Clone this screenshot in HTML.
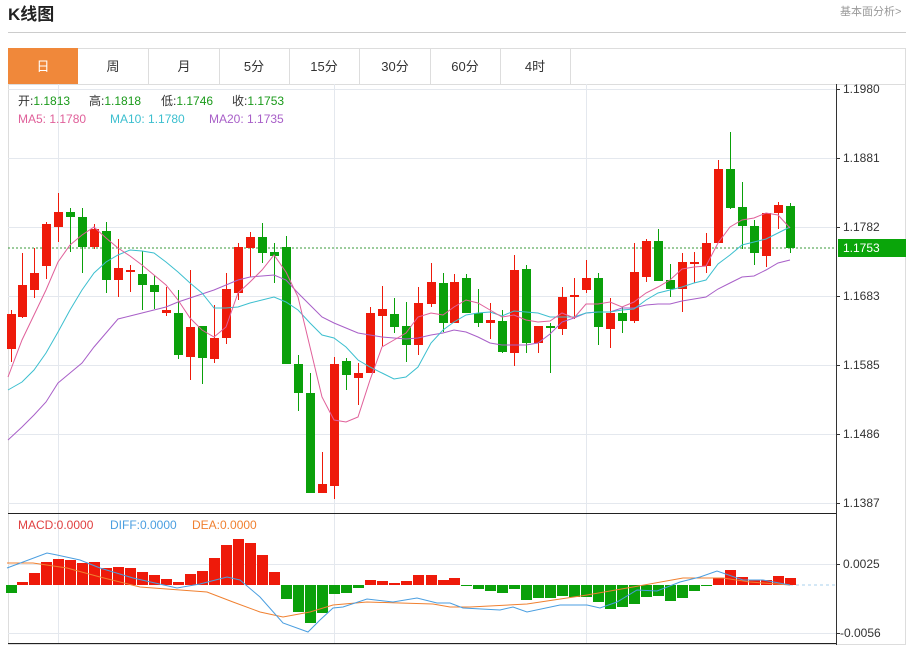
<!DOCTYPE html>
<html><head><meta charset="utf-8"><style>
body{margin:0;width:911px;height:645px;background:#fff;overflow:hidden;font-family:"Liberation Sans","Noto Sans CJK SC",sans-serif;}
svg{position:absolute;left:0;top:0}
</style></head><body>
<svg id="s" width="911" height="645" xmlns="http://www.w3.org/2000/svg" font-family="Liberation Sans, Noto Sans CJK SC, sans-serif">
<text x="8" y="20" font-size="17" font-weight="bold" fill="#222">K线图</text>
<text x="840" y="15" font-size="11" fill="#999">基本面分析&gt;</text>
<line x1="8" y1="32.5" x2="906" y2="32.5" stroke="#ccc"/>
<rect x="8.5" y="48.5" width="897" height="596" fill="none" stroke="#ddd"/>
<rect x="8" y="48" width="70" height="36" fill="#f0883a"/>
<g stroke="#ddd"><line x1="148.5" y1="48" x2="148.5" y2="84"/><line x1="219.5" y1="48" x2="219.5" y2="84"/><line x1="289.5" y1="48" x2="289.5" y2="84"/><line x1="359.5" y1="48" x2="359.5" y2="84"/><line x1="430.5" y1="48" x2="430.5" y2="84"/><line x1="500.5" y1="48" x2="500.5" y2="84"/><line x1="570.5" y1="48" x2="570.5" y2="84"/><line x1="8" y1="84.5" x2="906" y2="84.5"/></g>
<g font-size="13" text-anchor="middle" fill="#333"><text x="43" y="71" fill="#fff">日</text><text x="113" y="71">周</text><text x="184" y="71">月</text><text x="254" y="71">5分</text><text x="324" y="71">15分</text><text x="395" y="71">30分</text><text x="465" y="71">60分</text><text x="535" y="71">4时</text></g>
<g stroke="#e4e8ee"><line x1="8" y1="89.5" x2="836" y2="89.5"/><line x1="8" y1="158.5" x2="836" y2="158.5"/><line x1="8" y1="227.5" x2="836" y2="227.5"/><line x1="8" y1="296.5" x2="836" y2="296.5"/><line x1="8" y1="365.5" x2="836" y2="365.5"/><line x1="8" y1="434.5" x2="836" y2="434.5"/><line x1="8" y1="503.5" x2="836" y2="503.5"/><line x1="58.5" y1="84" x2="58.5" y2="643"/><line x1="334.5" y1="84" x2="334.5" y2="643"/><line x1="586.5" y1="84" x2="586.5" y2="643"/><line x1="8" y1="564.5" x2="836" y2="564.5"/><line x1="8" y1="633.5" x2="836" y2="633.5"/></g>
<line x1="8" y1="513.5" x2="836" y2="513.5" stroke="#222"/>
<line x1="8" y1="643.5" x2="836" y2="643.5" stroke="#222"/>
<line x1="836.5" y1="84" x2="836.5" y2="645" stroke="#333"/>
<g font-size="12" fill="#333"><text x="843" y="93">1.1980</text><text x="843" y="162">1.1881</text><text x="843" y="231">1.1782</text><text x="843" y="300">1.1683</text><text x="843" y="369">1.1585</text><text x="843" y="438">1.1486</text><text x="843" y="507">1.1387</text><text x="843" y="568">0.0025</text><text x="840" y="637">-0.0056</text></g>
<g stroke="#333"><line x1="836" y1="89.5" x2="840" y2="89.5"/><line x1="836" y1="158.5" x2="840" y2="158.5"/><line x1="836" y1="227.5" x2="840" y2="227.5"/><line x1="836" y1="296.5" x2="840" y2="296.5"/><line x1="836" y1="365.5" x2="840" y2="365.5"/><line x1="836" y1="434.5" x2="840" y2="434.5"/><line x1="836" y1="503.5" x2="840" y2="503.5"/><line x1="836" y1="564.5" x2="840" y2="564.5"/><line x1="836" y1="633.5" x2="840" y2="633.5"/></g>
<line x1="8" y1="248" x2="836" y2="248" stroke="#3a9a3a" stroke-dasharray="2,2"/>
<rect x="838" y="239" width="68" height="18" fill="#0aa50a"/>
<text x="843" y="252" font-size="12" fill="#fff">1.1753</text>
<line x1="790" y1="585" x2="836" y2="585" stroke="#a8d0ee" stroke-dasharray="3,3"/>
<g font-size="12"><text x="18" y="105" fill="#333">开:<tspan fill="#1a9a1a">1.1813</tspan></text><text x="89" y="105" fill="#333">高:<tspan fill="#1a9a1a">1.1818</tspan></text><text x="161" y="105" fill="#333">低:<tspan fill="#1a9a1a">1.1746</tspan></text><text x="232" y="105" fill="#333">收:<tspan fill="#1a9a1a">1.1753</tspan></text>
<text x="18" y="123" fill="#e0609a">MA5: 1.1780</text><text x="110" y="123" fill="#3cbfcf">MA10: 1.1780</text><text x="209" y="123" fill="#a85fc8">MA20: 1.1735</text>
<text x="18" y="529" fill="#e04040">MACD:0.0000</text><text x="110" y="529" fill="#4a9ee0">DIFF:0.0000</text><text x="192" y="529" fill="#f08030">DEA:0.0000</text></g>
<g id="g"></g>
</svg>
<script>
var C=[[11,314,349,310,362,'r'],[22,285,317,253,318,'r'],[34,273,290,248,298,'r'],[46,224,266,222,279,'r'],[58,212,227,193,242,'r'],[70,212,217,208,252,'g'],[82,217,247,208,273,'g'],[94,229,247,224,249,'r'],[106,231,280,222,293,'g'],[118,268,280,239,297,'r'],[130,270,272,265,292,'r'],[142,274,285,251,310,'g'],[154,285,292,275,309,'g'],[166,310,313,287,316,'r'],[178,313,355,290,359,'g'],[190,327,357,270,380,'r'],[202,326,358,326,384,'g'],[214,338,359,305,363,'r'],[226,289,338,273,344,'r'],[238,247,293,243,300,'r'],[250,237,248,232,277,'r'],[262,237,253,223,263,'g'],[274,252,256,243,283,'g'],[286,247,364,236,364,'g'],[298,364,393,355,411,'g'],[310,393,493,373,493,'g'],[322,484,493,452,493,'r'],[334,364,486,357,499,'r'],[346,361,375,358,390,'g'],[358,373,378,363,405,'r'],[370,313,373,307,373,'r'],[382,309,316,286,346,'r'],[394,314,327,298,333,'g'],[406,326,345,302,362,'g'],[418,303,345,287,355,'r'],[431,282,304,263,307,'r'],[443,283,323,273,332,'g'],[454,282,323,274,323,'r'],[466,278,313,274,313,'g'],[478,313,323,289,327,'g'],[490,320,323,303,339,'r'],[502,321,352,310,353,'g'],[514,270,353,255,366,'r'],[526,269,343,265,353,'g'],[538,326,343,326,353,'r'],[550,326,328,323,373,'g'],[562,297,329,287,335,'r'],[574,295,297,278,319,'r'],[586,278,290,260,293,'r'],[598,278,327,273,345,'g'],[610,313,329,298,348,'r'],[622,313,321,307,333,'g'],[634,272,321,243,323,'r'],[646,241,277,239,282,'r'],[658,241,281,229,281,'g'],[670,280,289,264,297,'g'],[682,262,289,253,312,'r'],[694,262,263,252,283,'r'],[706,243,266,233,273,'r'],[718,169,243,160,243,'r'],[730,169,208,132,209,'g'],[742,207,226,182,249,'g'],[754,226,253,220,265,'g'],[766,213,256,213,267,'r'],[778,205,213,202,229,'r'],[790,206,248,203,253,'g']];
var RED='#ee1a0a',GRN='#0aa00a',h='';
C.forEach(function(c){var col=c[5]=='r'?RED:GRN;h+='<line x1="'+(c[0]+.5)+'" y1="'+c[3]+'" x2="'+(c[0]+.5)+'" y2="'+c[4]+'" stroke="'+col+'"/>';h+='<rect x="'+(c[0]-4)+'" y="'+c[1]+'" width="9" height="'+Math.max(2,c[2]-c[1])+'" fill="'+col+'"/>';});
function pl(p,col){return '<polyline fill="none" stroke="'+col+'" stroke-width="1" points="'+p.map(function(q){return q.join(',')}).join(' ')+'"/>';}
var ma5=[[8,377],[22,340],[34,315],[46,290],[58,262],[70,245],[82,235],[94,227],[106,238],[118,248],[130,256],[142,265],[154,275],[166,285],[178,300],[190,318],[202,330],[214,337],[226,327],[238,293],[250,282],[262,270],[274,255],[286,272],[298,297],[310,347],[322,397],[334,420],[346,422],[358,417],[370,380],[382,347],[394,340],[406,333],[418,317],[431,313],[443,315],[454,307],[466,300],[478,303],[490,310],[502,317],[514,315],[526,320],[538,322],[550,321],[562,313],[574,318],[586,304],[598,304],[610,302],[622,307],[634,302],[646,293],[658,287],[670,280],[682,269],[694,267],[706,266],[718,243],[730,227],[742,220],[754,218],[766,213],[778,215],[790,228]];
var ma10=[[8,390],[22,382],[34,370],[46,353],[58,332],[70,310],[82,290],[94,273],[106,262],[118,255],[130,250],[142,251],[154,253],[166,262],[178,272],[190,283],[202,293],[214,308],[226,308],[238,307],[250,303],[262,300],[274,297],[286,302],[298,310],[310,323],[322,335],[334,338],[346,347],[358,360],[370,367],[382,373],[394,379],[406,377],[418,367],[431,343],[443,330],[454,322],[466,315],[478,313],[490,312],[502,316],[514,311],[526,312],[538,313],[550,317],[562,317],[574,317],[586,313],[598,312],[610,312],[622,310],[634,309],[646,300],[658,293],[670,290],[682,287],[694,283],[706,280],[718,264],[730,255],[742,245],[754,242],[766,239],[778,233],[790,227]];
var ma20=[[8,440],[22,427],[34,415],[46,402],[58,383],[70,373],[82,363],[94,347],[106,333],[118,319],[130,316],[142,313],[154,310],[166,307],[178,302],[190,298],[202,294],[214,290],[226,285],[238,280],[250,277],[262,276],[274,275],[286,280],[298,293],[310,305],[322,317],[334,323],[346,328],[358,333],[370,335],[382,337],[394,338],[406,339],[418,338],[431,335],[443,333],[454,330],[466,332],[478,337],[490,343],[502,345],[514,345],[526,345],[538,343],[550,334],[562,322],[574,318],[586,313],[598,312],[610,312],[622,308],[634,308],[646,305],[658,304],[670,304],[682,301],[694,299],[706,297],[718,289],[730,283],[742,277],[754,276],[766,270],[778,263],[790,260]];
h+=pl(ma20,'#a85fc8')+pl(ma10,'#3cbfcf')+pl(ma5,'#e0609a');
var M=[593,582,573,562,559,560,563,562,568,567,568,572,575,579,582,574,571,558,545,539,543,555,572,599,612,623,613,594,593,588,580,581,583,581,575,575,580,578,586,589,591,593,589,600,598,598,596,597,597,602,609,607,604,597,596,601,598,591,586,578,570,577,580,580,576,578];
M.forEach(function(v,i){var x=C[i][0];var col=v<585?RED:GRN;var y=Math.min(v,585),hh=Math.max(1,Math.abs(v-585));h+='<rect x="'+(x-5)+'" y="'+y+'" width="11" height="'+hh+'" fill="'+col+'"/>';});
var dif=[[7,568],[47,553],[57,555],[80,560],[100,568],[133,578],[177,588],[200,584],[227,577],[240,580],[260,597],[283,623],[308,632],[320,620],[333,608],[343,607],[367,599],[393,602],[417,598],[437,603],[450,603],[463,608],[500,610],[513,607],[527,612],[560,605],[587,605],[600,608],[617,602],[637,590],[657,591],[680,582],[700,577],[717,571],[743,580],[763,580],[790,585]];
var dea=[[7,563],[33,563],[67,568],[100,577],[140,587],[180,590],[207,592],[233,602],[260,612],[283,617],[310,612],[333,605],[367,602],[400,603],[433,604],[450,607],[470,607],[527,604],[587,595],[633,587],[683,578],[703,578],[723,578],[750,582],[790,585]];
h+=pl(dea,'#f08030')+pl(dif,'#4a9ee0');
document.getElementById('g').innerHTML=h;
</script>
</body></html>
